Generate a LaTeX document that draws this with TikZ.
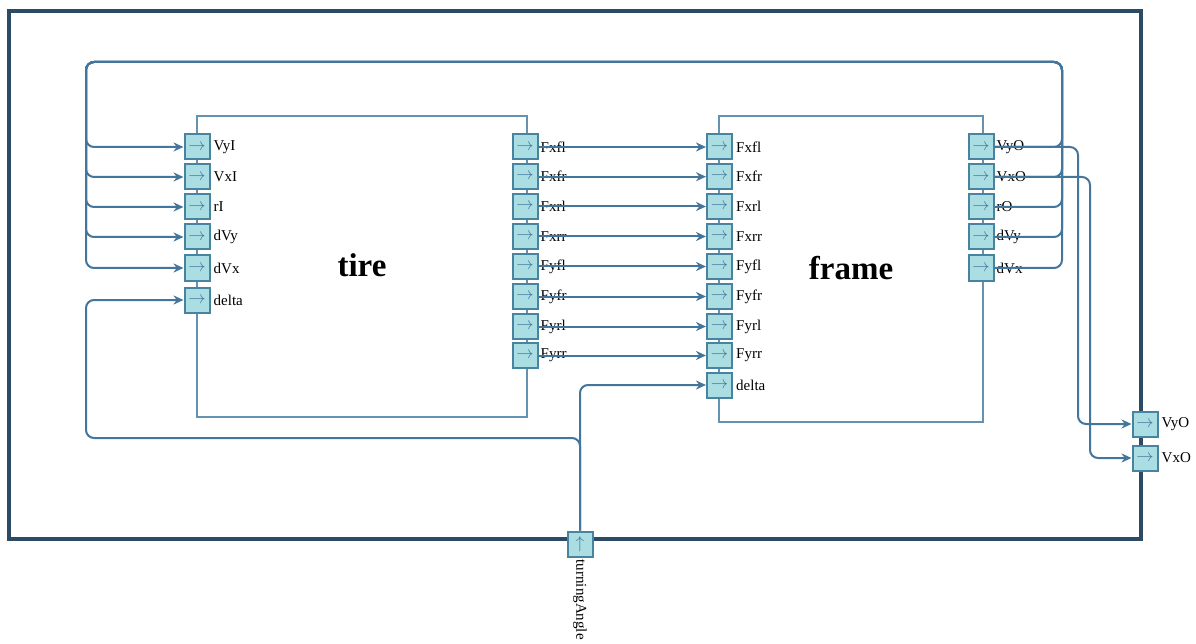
\documentclass[tikz,border=0pt]{standalone}
\usepackage{fontspec}
\setmainfont{Liberation Serif}
\usetikzlibrary{arrows.meta,calc}
\definecolor{outerc}{RGB}{44,74,99}
\definecolor{connc}{RGB}{68,118,156}
\definecolor{blockc}{RGB}{100,146,176}
\definecolor{portfill}{RGB}{170,222,226}
\definecolor{portdraw}{RGB}{72,132,160}
\tikzset{
  portbox/.style={draw=portdraw, fill=portfill, line width=2pt, minimum width=25pt, minimum height=25pt, inner sep=0pt, text=connc, font=\fontsize{17}{18}\selectfont},
  plabel/.style={anchor=west, inner sep=0pt, font=\fontsize{15}{17}\selectfont},
  blockrect/.style={draw=blockc, line width=1.6pt},
  conn/.style={draw=connc, line width=2pt, rounded corners=8pt, -{Stealth[length=10pt,width=9pt]}},
  bigtitle/.style={font=\bfseries\fontsize{33}{36}\selectfont}
}
\begin{document}
\begin{tikzpicture}[x=1pt,y=-1pt]
\useasboundingbox (0,0) rectangle (1196,644);
\fill[white] (0,0) rectangle (1196,644);
% outer frame
\draw[draw=outerc, line width=4.5pt] (9,11) rectangle (1141,539);
% blocks
\draw[blockrect] (197,116) rectangle (527,417);
\draw[blockrect] (719,116) rectangle (983,422);
\node[bigtitle] (tiret) at (362,265) {tire};
\node[bigtitle] (framet) at (851,268) {frame};
% tire left ports
\foreach \n/\lab/\y in {1/VyI/147,2/VxI/177,3/rI/207,4/dVy/237,5/dVx/268,6/delta/300}{
  \node[portbox] (til\n) at (197,\y) {$\rightarrow$};
  \node[plabel] (tilL\n) at ($(til\n.east)+(3,0)$) {\lab};
}
% tire right ports and frame left ports
\foreach \n/\lab/\y in {1/Fxfl/147,2/Fxfr/176.7,3/Fxrl/206.5,4/Fxrr/236.5,5/Fyfl/266.5,6/Fyfr/296.5,7/Fyrl/326.5,8/Fyrr/355.5}{
  \node[portbox] (tir\n) at (525,\y) {$\rightarrow$};
  \node[plabel] (tirL\n) at ($(tir\n.east)+(2,0)$) {\lab};
  \node[portbox] (frl\n) at (719.5,\y) {$\rightarrow$};
  \node[plabel] (frlL\n) at ($(frl\n.east)+(3,0)$) {\lab};
}
\node[portbox] (frl9) at (719.5,385) {$\rightarrow$};
\node[plabel] (frlL9) at ($(frl9.east)+(3,0)$) {delta};
% frame right ports
\foreach \n/\lab/\y in {1/VyO/147,2/VxO/177,3/rO/207,4/dVy/237,5/dVx/268}{
  \node[portbox] (fro\n) at (981,\y) {$\rightarrow$};
  \node[plabel] (froL\n) at ($(fro\n.east)+(2,0)$) {\lab};
}
% outer ports
\node[portbox] (outVy) at (1145,424) {$\rightarrow$};
\node[plabel] (outVyL) at ($(outVy.east)+(3,0)$) {VyO};
\node[portbox] (outVx) at (1145,458) {$\rightarrow$};
\node[plabel] (outVxL) at ($(outVx.east)+(3,0)$) {VxO};
\node[portbox] (ta) at (580,544) {$\uparrow$};
\node[plabel, rotate=-90, font=\fontsize{15}{17}\selectfont] (taL) at ($(ta.south)+(0,2)$) {turningAngle};
% coordinates
\coordinate (busR) at (1062,62);
\coordinate (busL) at (86,62);
\coordinate (vyx) at (1078,424);
\coordinate (vxx) at (1090,458);
\coordinate (lc) at (86,438);
% tire -> frame
\foreach \n in {1,...,8}{
  \draw[conn] (tir\n.east) -- (frl\n.west);
}
% feedback
\foreach \n in {1,...,5}{
  \draw[conn] (fro\n.east) -| (busR) -- (busL) |- (til\n.west);
}
% outputs
\draw[conn] (fro1.east) -| (vyx) -- (outVy.west);
\draw[conn] (fro2.east) -| (vxx) -- (outVx.west);
% turning angle
\draw[conn] (ta.north) |- (lc) |- (til6.west);
\draw[conn] (ta.north) |- (frl9.west);
\end{tikzpicture}
\end{document}
